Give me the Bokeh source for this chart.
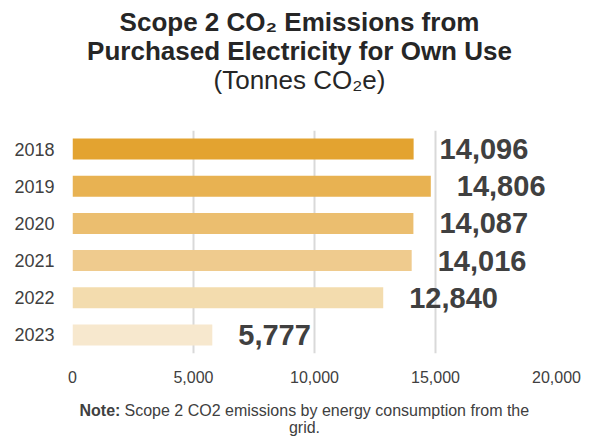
from bokeh.plotting import figure
from bokeh.layouts import column
from bokeh.models import Label, ColumnDataSource, FactorRange, Range1d, NumeralTickFormatter
from bokeh.embed import file_html
from bokeh.resources import INLINE
from bokeh.core.properties import value

# ---- data ----
years = ["2018", "2019", "2020", "2021", "2022", "2023"]
emissions = [14096, 14806, 14087, 14016, 12840, 5777]
bar_colors = ["#E3A330", "#E8B252", "#EBBE6F", "#EFCB8E", "#F3DCAE", "#F7E8CE"]
value_labels = ["14,096", "14,806", "14,087", "14,016", "12,840", "5,777"]
x_ticks = [0, 5000, 10000, 15000, 20000]

FONT = "Liberation Sans"
TXT = "#404040"
TITLE_C = "#262626"
W = 590
FRAME_LEFT = 72  # the column aligns all frames to the chart's frame


def text_panel(height):
    f = figure(width=W, height=height, output_backend="svg", toolbar_location=None,
               title=None, min_border=0, x_axis_type=None, y_axis_type=None,
               x_range=Range1d(0, 1), y_range=Range1d(0, 1))
    f.outline_line_color = None
    f.grid.visible = False
    return f


def lab(f, x, y, text, size, style="normal", align="center", color=TXT):
    f.add_layout(Label(x=x - FRAME_LEFT, y=y, x_units="screen", y_units="screen", text=text,
                       text_align=align, text_baseline="alphabetic",
                       text_font=FONT, text_font_size=size, text_font_style=style,
                       text_color=color))


# ---- title panel ----
top = text_panel(110)
lab(top, 299, 89, "Scope 2 CO\u2082 Emissions from", "26px", "bold", color=TITLE_C)
lab(top, 299, 60, "Purchased Electricity for Own Use", "26px", "bold", color=TITLE_C)
lab(top, 299, 31, "(Tonnes CO\u2082e)", "26px", color=TITLE_C)

# ---- main chart ----
src = ColumnDataSource(dict(year=years, val=emissions, color=bar_colors, label=value_labels))

p = figure(
    y_range=FactorRange(factors=list(reversed(years))),
    x_range=Range1d(0, 20000),
    width=W, height=280,
    output_backend="svg", toolbar_location=None, title=None,
    min_border_left=72, min_border_right=34, min_border_top=20, min_border_bottom=37,
)

p.hbar(y="year", left=0, right="val", height=0.565, color="color", line_color=None, source=src)
p.text(x="val", y="year", text="label", x_offset=26, text_align="left", text_baseline="middle",
       text_font=value(FONT), text_font_size="29px", text_font_style="bold",
       text_color=TXT, source=src)

p.outline_line_color = None
p.ygrid.grid_line_color = None
p.xgrid.grid_line_color = "#D9D9D9"
p.xgrid.grid_line_width = 2
p.xaxis.ticker = x_ticks
p.xaxis.formatter = NumeralTickFormatter(format="0,0")

for ax in (p.xaxis[0], p.yaxis[0]):
    ax.axis_line_color = None
    ax.major_tick_line_color = None
    ax.minor_tick_line_color = None
    ax.major_label_text_font = FONT
    ax.major_label_text_color = TXT
p.xaxis.major_label_text_font_size = "16px"
p.xaxis.major_label_standoff = 11
p.yaxis.major_label_text_font_size = "18px"
p.yaxis.major_label_standoff = 12

# ---- note panel ----
note = text_panel(51)
lab(note, 79, 31, "Note:", "16px", "bold", "left")
lab(note, 124, 31, "Scope 2 CO2 emissions by energy consumption from the", "16px", "normal", "left")
lab(note, 304, 14, "grid.", "16px")

layout = column(top, p, note, spacing=0)
open("out.html", "w").write(file_html(layout, INLINE))
